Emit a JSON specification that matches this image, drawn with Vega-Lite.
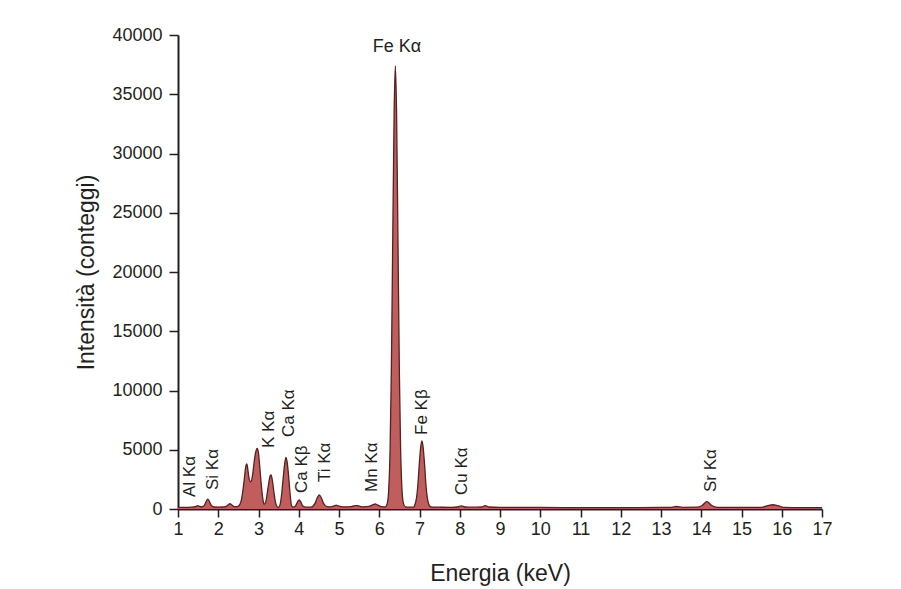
{
  "$schema": "https://vega.github.io/schema/vega-lite/v6.json",
  "width": 644,
  "height": 474,
  "autosize": {"type": "none"},
  "padding": {"left": 178, "top": 35, "right": 79, "bottom": 80},
  "background": "white",
  "config": {"view": {"stroke": null}, "font": "Liberation Sans"},
  "datasets": {
    "spectrum": [
      {"energy": 1.0, "count": 150}, {"energy": 1.1, "count": 140}, {"energy": 1.2, "count": 130},
      {"energy": 1.3, "count": 150}, {"energy": 1.4, "count": 170}, {"energy": 1.45, "count": 220},
      {"energy": 1.49, "count": 280}, {"energy": 1.53, "count": 220}, {"energy": 1.58, "count": 180},
      {"energy": 1.64, "count": 250}, {"energy": 1.68, "count": 480}, {"energy": 1.71, "count": 720},
      {"energy": 1.74, "count": 840}, {"energy": 1.77, "count": 720}, {"energy": 1.8, "count": 480},
      {"energy": 1.84, "count": 250}, {"energy": 1.9, "count": 170}, {"energy": 2.0, "count": 160},
      {"energy": 2.1, "count": 170}, {"energy": 2.2, "count": 230}, {"energy": 2.25, "count": 360},
      {"energy": 2.29, "count": 460}, {"energy": 2.33, "count": 360}, {"energy": 2.4, "count": 200},
      {"energy": 2.46, "count": 200}, {"energy": 2.52, "count": 300}, {"energy": 2.57, "count": 700},
      {"energy": 2.61, "count": 1500}, {"energy": 2.65, "count": 2600}, {"energy": 2.68, "count": 3500},
      {"energy": 2.71, "count": 3800}, {"energy": 2.74, "count": 3200}, {"energy": 2.77, "count": 2500},
      {"energy": 2.81, "count": 2300}, {"energy": 2.85, "count": 2800}, {"energy": 2.89, "count": 3900},
      {"energy": 2.93, "count": 4800}, {"energy": 2.97, "count": 5120}, {"energy": 3.0, "count": 4700},
      {"energy": 3.03, "count": 3600}, {"energy": 3.07, "count": 2000}, {"energy": 3.11, "count": 800},
      {"energy": 3.14, "count": 400}, {"energy": 3.18, "count": 600}, {"energy": 3.22, "count": 1400},
      {"energy": 3.26, "count": 2300}, {"energy": 3.29, "count": 2800}, {"energy": 3.31, "count": 2870},
      {"energy": 3.34, "count": 2500}, {"energy": 3.38, "count": 1500}, {"energy": 3.42, "count": 600},
      {"energy": 3.46, "count": 200}, {"energy": 3.49, "count": 130}, {"energy": 3.53, "count": 300},
      {"energy": 3.57, "count": 1100}, {"energy": 3.61, "count": 2500}, {"energy": 3.65, "count": 3800},
      {"energy": 3.68, "count": 4360}, {"energy": 3.71, "count": 4000}, {"energy": 3.75, "count": 2700},
      {"energy": 3.79, "count": 1100}, {"energy": 3.82, "count": 300}, {"energy": 3.86, "count": 150},
      {"energy": 3.92, "count": 250}, {"energy": 3.97, "count": 600}, {"energy": 4.01, "count": 760},
      {"energy": 4.05, "count": 600}, {"energy": 4.1, "count": 250}, {"energy": 4.18, "count": 150},
      {"energy": 4.3, "count": 150}, {"energy": 4.4, "count": 450}, {"energy": 4.46, "count": 950},
      {"energy": 4.51, "count": 1180}, {"energy": 4.56, "count": 950}, {"energy": 4.62, "count": 450},
      {"energy": 4.7, "count": 200}, {"energy": 4.8, "count": 180}, {"energy": 4.88, "count": 260},
      {"energy": 4.93, "count": 330}, {"energy": 4.98, "count": 260}, {"energy": 5.1, "count": 180},
      {"energy": 5.3, "count": 200}, {"energy": 5.4, "count": 290}, {"energy": 5.46, "count": 280},
      {"energy": 5.6, "count": 180}, {"energy": 5.75, "count": 220}, {"energy": 5.85, "count": 360},
      {"energy": 5.9, "count": 420}, {"energy": 5.95, "count": 360}, {"energy": 6.05, "count": 200},
      {"energy": 6.15, "count": 180}, {"energy": 6.2, "count": 480}, {"energy": 6.235, "count": 1620},
      {"energy": 6.27, "count": 5150}, {"energy": 6.3, "count": 11500}, {"energy": 6.335, "count": 22650},
      {"energy": 6.37, "count": 33500}, {"energy": 6.4, "count": 37400}, {"energy": 6.43, "count": 33500},
      {"energy": 6.465, "count": 22650}, {"energy": 6.5, "count": 11500}, {"energy": 6.53, "count": 5150},
      {"energy": 6.565, "count": 1620}, {"energy": 6.6, "count": 480}, {"energy": 6.65, "count": 180},
      {"energy": 6.75, "count": 150}, {"energy": 6.86, "count": 160}, {"energy": 6.89, "count": 400},
      {"energy": 6.925, "count": 910}, {"energy": 6.96, "count": 2050}, {"energy": 6.99, "count": 3550},
      {"energy": 7.03, "count": 5230}, {"energy": 7.06, "count": 5750}, {"energy": 7.09, "count": 5230},
      {"energy": 7.13, "count": 3550}, {"energy": 7.16, "count": 2050}, {"energy": 7.195, "count": 910},
      {"energy": 7.23, "count": 400}, {"energy": 7.26, "count": 220}, {"energy": 7.31, "count": 160},
      {"energy": 7.5, "count": 150}, {"energy": 7.8, "count": 140}, {"energy": 7.95, "count": 170},
      {"energy": 8.04, "count": 260}, {"energy": 8.13, "count": 170}, {"energy": 8.3, "count": 150},
      {"energy": 8.55, "count": 170}, {"energy": 8.63, "count": 290}, {"energy": 8.72, "count": 170},
      {"energy": 9.0, "count": 140}, {"energy": 10.0, "count": 130}, {"energy": 11.0, "count": 120},
      {"energy": 12.0, "count": 120}, {"energy": 13.0, "count": 130}, {"energy": 13.25, "count": 140},
      {"energy": 13.39, "count": 210}, {"energy": 13.53, "count": 140}, {"energy": 13.9, "count": 150},
      {"energy": 14.02, "count": 300}, {"energy": 14.14, "count": 620}, {"energy": 14.26, "count": 300},
      {"energy": 14.4, "count": 140}, {"energy": 15.0, "count": 130}, {"energy": 15.5, "count": 140},
      {"energy": 15.65, "count": 280}, {"energy": 15.78, "count": 360}, {"energy": 15.9, "count": 280},
      {"energy": 16.05, "count": 140}, {"energy": 16.5, "count": 120}, {"energy": 17.0, "count": 120}
    ],
    "peaks": [
      {"label": "Al Kα", "energy": 1.3, "count": 1013},
      {"label": "Si Kα", "energy": 1.87, "count": 1603},
      {"label": "K Kα", "energy": 3.26, "count": 5148},
      {"label": "Ca Kα", "energy": 3.76, "count": 6076},
      {"label": "Ca Kβ", "energy": 4.08, "count": 1350},
      {"label": "Ti Kα", "energy": 4.65, "count": 2278},
      {"label": "Mn Kα", "energy": 5.82, "count": 1435},
      {"label": "Fe Kβ", "energy": 7.06, "count": 6245},
      {"label": "Cu Kα", "energy": 8.06, "count": 1181},
      {"label": "Sr Kα", "energy": 14.24, "count": 1435}
    ],
    "top": [
      {"label": "Fe Kα", "energy": 6.44, "count": 38990}
    ]
  },
  "layer": [
    {
      "data": {"name": "spectrum"},
      "mark": {"type": "area", "interpolate": "monotone", "color": "#bf5e5c", "opacity": 1,
               "line": {"color": "#55201f", "strokeWidth": 1.3}},
      "encoding": {
        "x": {
          "field": "energy", "type": "quantitative",
          "scale": {"domain": [1, 17], "nice": false, "zero": false},
          "axis": {
            "title": "Energia (keV)",
            "values": [1, 1.5, 2, 2.5, 3, 3.5, 4, 4.5, 5, 5.5, 6, 6.5, 7, 7.5, 8, 8.5, 9, 9.5, 10, 10.5, 11, 11.5, 12, 12.5, 13, 13.5, 14, 14.5, 15, 15.5, 16, 16.5, 17],
            "labelExpr": "datum.value % 1 === 0 ? format(datum.value, 'd') : ''",
            "grid": false,
            "domainColor": "#231f20", "domainWidth": 2,
            "tickColor": "#231f20", "tickWidth": 1.5,
            "tickSize": {"condition": {"test": "datum.value % 1 === 0", "value": 8}, "value": 4},
            "labelFontSize": 18, "labelColor": "#231f20", "labelPadding": 3,
            "labelFlush": false, "labelOverlap": false,
            "titleFontSize": 23, "titleFontWeight": "normal", "titleColor": "#231f20",
            "titleY": 64, "titleBaseline": "middle"
          }
        },
        "y": {
          "field": "count", "type": "quantitative",
          "scale": {"domain": [0, 40000], "nice": false},
          "axis": {
            "title": "Intensità (conteggi)",
            "values": [0, 2500, 5000, 7500, 10000, 12500, 15000, 17500, 20000, 22500, 25000, 27500, 30000, 32500, 35000, 37500, 40000],
            "labelExpr": "datum.value % 5000 === 0 ? format(datum.value, 'd') : ''",
            "grid": false,
            "domainColor": "#231f20", "domainWidth": 2,
            "tickColor": "#231f20", "tickWidth": 1.5,
            "tickSize": {"condition": {"test": "datum.value % 5000 === 0", "value": 9}, "value": 4},
            "labelFontSize": 18, "labelColor": "#231f20", "labelPadding": 7,
            "labelFlush": false, "labelOverlap": false,
            "titleFontSize": 23, "titleFontWeight": "normal", "titleColor": "#231f20",
            "titleX": -92, "titleY": 237, "titleAngle": -90, "titleAlign": "center", "titleBaseline": "middle"
          }
        }
      }
    },
    {
      "data": {"name": "peaks"},
      "mark": {"type": "text", "angle": 270, "align": "left", "baseline": "middle", "fontSize": 17, "color": "#231f20"},
      "encoding": {
        "x": {"field": "energy", "type": "quantitative"},
        "y": {"field": "count", "type": "quantitative"},
        "text": {"field": "label"}
      }
    },
    {
      "data": {"name": "top"},
      "mark": {"type": "text", "align": "center", "baseline": "middle", "fontSize": 18, "color": "#231f20"},
      "encoding": {
        "x": {"field": "energy", "type": "quantitative"},
        "y": {"field": "count", "type": "quantitative"},
        "text": {"field": "label"}
      }
    }
  ]
}
